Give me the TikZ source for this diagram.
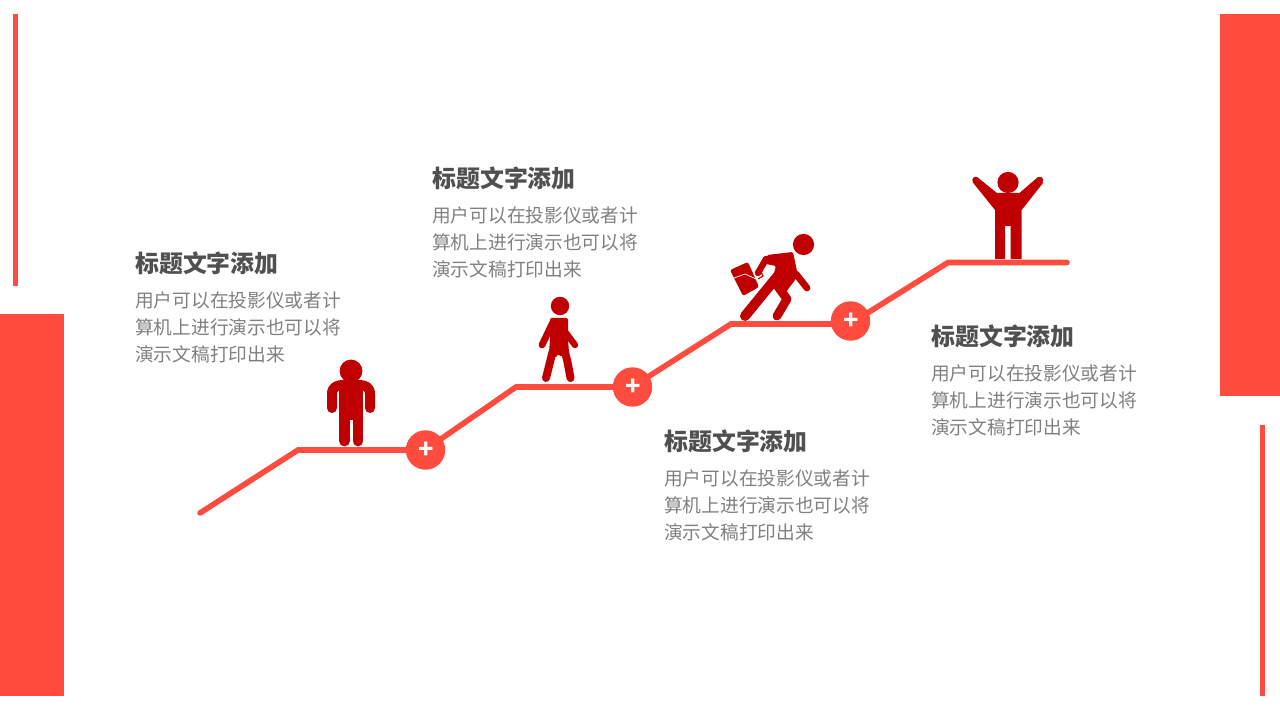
\documentclass[tikz,border=0pt]{standalone}
\usepackage{fontspec}
\usepackage{tikz}
\newfontfamily\cjk{Noto Sans CJK SC}
\definecolor{barred}{HTML}{FF4C3F}
\definecolor{manred}{HTML}{C00000}
\definecolor{titlegray}{HTML}{505050}
\definecolor{bodygray}{HTML}{808080}
\tikzset{
  stair/.style={draw=barred,line width=0.14cm,line cap=round,line join=miter},
  plusdot/.style={circle,fill=barred,text=white,minimum size=0.985cm,inner sep=0pt,font=\fontsize{18}{18}\selectfont\cjk\bfseries},
  head/.style={circle,fill=manred,inner sep=0pt},
  limb/.style={draw=manred,line cap=round,line join=round},
  titletext/.style={anchor=west,inner sep=0pt,text=titlegray,font=\fontsize{17}{20}\selectfont\cjk\bfseries},
  bodytext/.style={anchor=north west,inner sep=0pt,align=left,text=bodygray,font=\fontsize{13.3}{19.2}\selectfont\cjk},
}
\begin{document}
\begin{tikzpicture}[x=0.025cm,y=-0.025cm]
\useasboundingbox (0,0) rectangle (1280,720);
% side bars
\fill[barred](0,314) rectangle (64,696);
\fill[barred](1220,14) rectangle (1280,396);
\fill[barred](13,14) rectangle (18,286);
\fill[barred](1260,425) rectangle (1265,696);
% stairs
\coordinate (stairA) at (200,513);
\coordinate (stairB) at (298,450);
\coordinate (stairC) at (516,387);
\coordinate (stairD) at (731,324);
\coordinate (stairE) at (948,262.5);
\coordinate (stairF) at (1067,262.5);
\draw[stair](stairA)--(stairB)--(425,450)--(stairC)--(632,387)--(stairD)--(850,324)--(stairE)--(stairF);
\node[plusdot] (plusA) at (425.5,450) {\raisebox{-1.5pt}{\hspace{0.5pt}+}};
\node[plusdot] (plusB) at (632.5,387) {\raisebox{-1.5pt}{\hspace{0.5pt}+}};
\node[plusdot] (plusC) at (850.5,321) {\raisebox{-1.5pt}{\hspace{0.5pt}+}};
% first man
\node[head,minimum size=0.57cm] (headA) at (351,371) {};
\draw[limb,line width=0.25cm](332,408)--(332,394) .. controls (332,387) and (337,385) .. (343,385)--(359,385) .. controls (365,385) and (370,387) .. (370,394)--(370,408);
\fill[manred](339,381) rectangle (363,420);
\draw[limb,line width=0.27cm](344.5,418)--(344.5,441);
\draw[limb,line width=0.27cm](358,418)--(358,441);
% second man
\node[head,minimum size=0.46cm] (headB) at (560,306) {};
\fill[manred,rounded corners=1pt](550,318)--(568,318)--(568,340)--(569,352)--(561,357)--(558.5,354)--(555,358)--(549,352)--(550,340)--cycle;
\draw[limb,line width=0.17cm](552.5,323)--(542,345);
\draw[limb,line width=0.16cm](566,333)--(575,345);
\draw[limb,line width=0.2cm](552.5,352)--(546,378);
\draw[limb,line width=0.2cm](564.5,350)--(567.5,362)--(570.5,378);
% third man
\node[head,minimum size=0.53cm] (headC) at (803.5,244.5) {};
\fill[manred,rounded corners=1pt](767,255)--(793,252)--(798,276)--(786,292)--(772,280)--(776,266)--(766,264)--cycle;
\draw[limb,line width=0.16cm](766,259)--(758,273);
\draw[limb,line width=0.17cm](796,274)--(807,288);
\draw[limb,line width=0.25cm](781,272)--(745,316);
\draw[limb,line width=0.22cm](776,284)--(787,299)--(777,316);
\fill[manred,rounded corners=1.5pt](730,270)--(748,262)--(759,287)--(743,296)--cycle;
\draw[white,line width=0.5pt](734,278)--(745,274)--(756,279);
\draw[manred,line width=0.8pt](755,272)--(760,270)--(763,276)--(758,279);
% fourth man
\node[head,minimum size=0.53cm] (headD) at (1008,182.5) {};
\draw[limb,line width=0.16cm](975.5,180)--(995,201);
\draw[limb,line width=0.16cm](1040,180)--(1022,201);
\fill[manred](977,177)--(997,193)--(1019.5,193)--(1038,177)--(1043,183)--(1021.7,210)--(1021.7,259)--(1010.7,259)--(1010.7,226)--(1005,226)--(1005,259)--(995,259)--(995,210)--(972.5,182)--cycle;
% labels
\node[titletext] (titleA) at (135,263) {标题文字添加};
\node[bodytext] (bodyA) at (135,291) {用户可以在投影仪或者计\\算机上进行演示也可以将\\演示文稿打印出来};
\node[titletext] (titleB) at (432,178) {标题文字添加};
\node[bodytext] (bodyB) at (432,206) {用户可以在投影仪或者计\\算机上进行演示也可以将\\演示文稿打印出来};
\node[titletext] (titleC) at (664,441) {标题文字添加};
\node[bodytext] (bodyC) at (664,469) {用户可以在投影仪或者计\\算机上进行演示也可以将\\演示文稿打印出来};
\node[titletext] (titleD) at (931,336) {标题文字添加};
\node[bodytext] (bodyD) at (931,364) {用户可以在投影仪或者计\\算机上进行演示也可以将\\演示文稿打印出来};
\end{tikzpicture}
\end{document}
